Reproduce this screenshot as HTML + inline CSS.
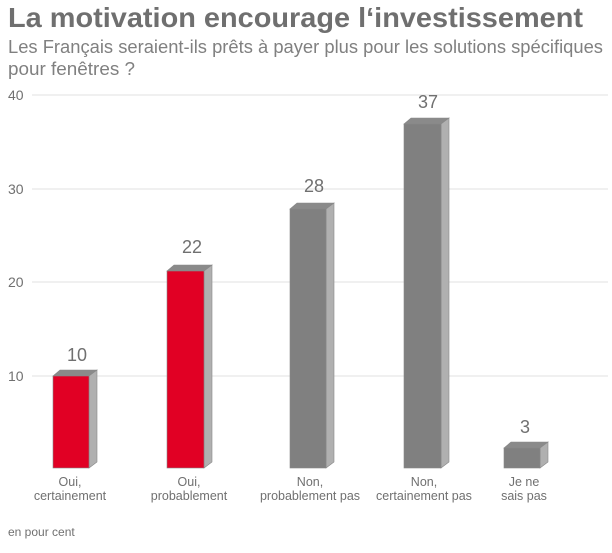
<!DOCTYPE html><html><head><meta charset="utf-8"><style>
body{margin:0;background:#fff;width:612px;height:548px;overflow:hidden;font-family:"Liberation Sans",sans-serif}
</style></head><body>
<svg width="612" height="548" xmlns="http://www.w3.org/2000/svg" font-family="Liberation Sans, sans-serif">
<text x="8" y="27" font-size="28" font-weight="bold" fill="#6f6f6f" textLength="575" lengthAdjust="spacingAndGlyphs">La motivation encourage l‘investissement</text>
<text x="8" y="53" font-size="18" fill="#808080" textLength="595" lengthAdjust="spacingAndGlyphs">Les Français seraient-ils prêts à payer plus pour les solutions spécifiques</text>
<text x="8" y="75" font-size="18" fill="#808080" textLength="127" lengthAdjust="spacingAndGlyphs">pour fenêtres ?</text>
<g stroke="#e2e2e2" stroke-width="1">
<line x1="32" y1="95" x2="608" y2="95"/><line x1="32" y1="189" x2="608" y2="189"/>
<line x1="32" y1="282" x2="608" y2="282"/><line x1="32" y1="376" x2="608" y2="376"/>
</g>
<g font-size="14" fill="#707070">
<text x="8" y="100">40</text><text x="8" y="194">30</text><text x="8" y="287">20</text><text x="8" y="381">10</text>
</g>
<g stroke="#888" stroke-width="0.6">
<polygon points="53,376 60,370 97,370 89,376" fill="#8a8a8a"/>
<polygon points="89,376 97,370 97,462 89,468" fill="#b0b0b0"/>
<rect x="53" y="376" width="36" height="92" fill="#e10024"/>
<polygon points="167,271 174,265 212,265 204,271" fill="#8a8a8a"/>
<polygon points="204,271 212,265 212,462 204,468" fill="#b0b0b0"/>
<rect x="167" y="271" width="37" height="197" fill="#e10024"/>
<polygon points="290,209 297,203 334,203 326,209" fill="#8a8a8a"/>
<polygon points="326,209 334,203 334,462 326,468" fill="#b0b0b0"/>
<rect x="290" y="209" width="36" height="259" fill="#808080"/>
<polygon points="404,124 411,118 449,118 441,124" fill="#8a8a8a"/>
<polygon points="441,124 449,118 449,462 441,468" fill="#b0b0b0"/>
<rect x="404" y="124" width="37" height="344" fill="#808080"/>
<polygon points="504,448 511,442 548,442 540,448" fill="#8a8a8a"/>
<polygon points="540,448 548,442 548,462 540,468" fill="#b0b0b0"/>
<rect x="504" y="448" width="36" height="20" fill="#808080"/>
</g>
<g font-size="18" fill="#707070" text-anchor="middle">
<text x="77" y="361">10</text><text x="192" y="253">22</text><text x="314" y="192">28</text><text x="428" y="108">37</text><text x="525" y="433">3</text>
</g>
<g font-size="12.5" fill="#707070" text-anchor="middle">
<text x="70" y="486">Oui,</text><text x="70" y="500">certainement</text>
<text x="189" y="486">Oui,</text><text x="189" y="500">probablement</text>
<text x="310" y="486">Non,</text><text x="310" y="500">probablement pas</text>
<text x="424" y="486">Non,</text><text x="424" y="500">certainement pas</text>
<text x="524" y="486">Je ne</text><text x="524" y="500">sais pas</text>
</g>
<text x="8" y="536" font-size="12" fill="#707070">en pour cent</text>
</svg>
</body></html>
